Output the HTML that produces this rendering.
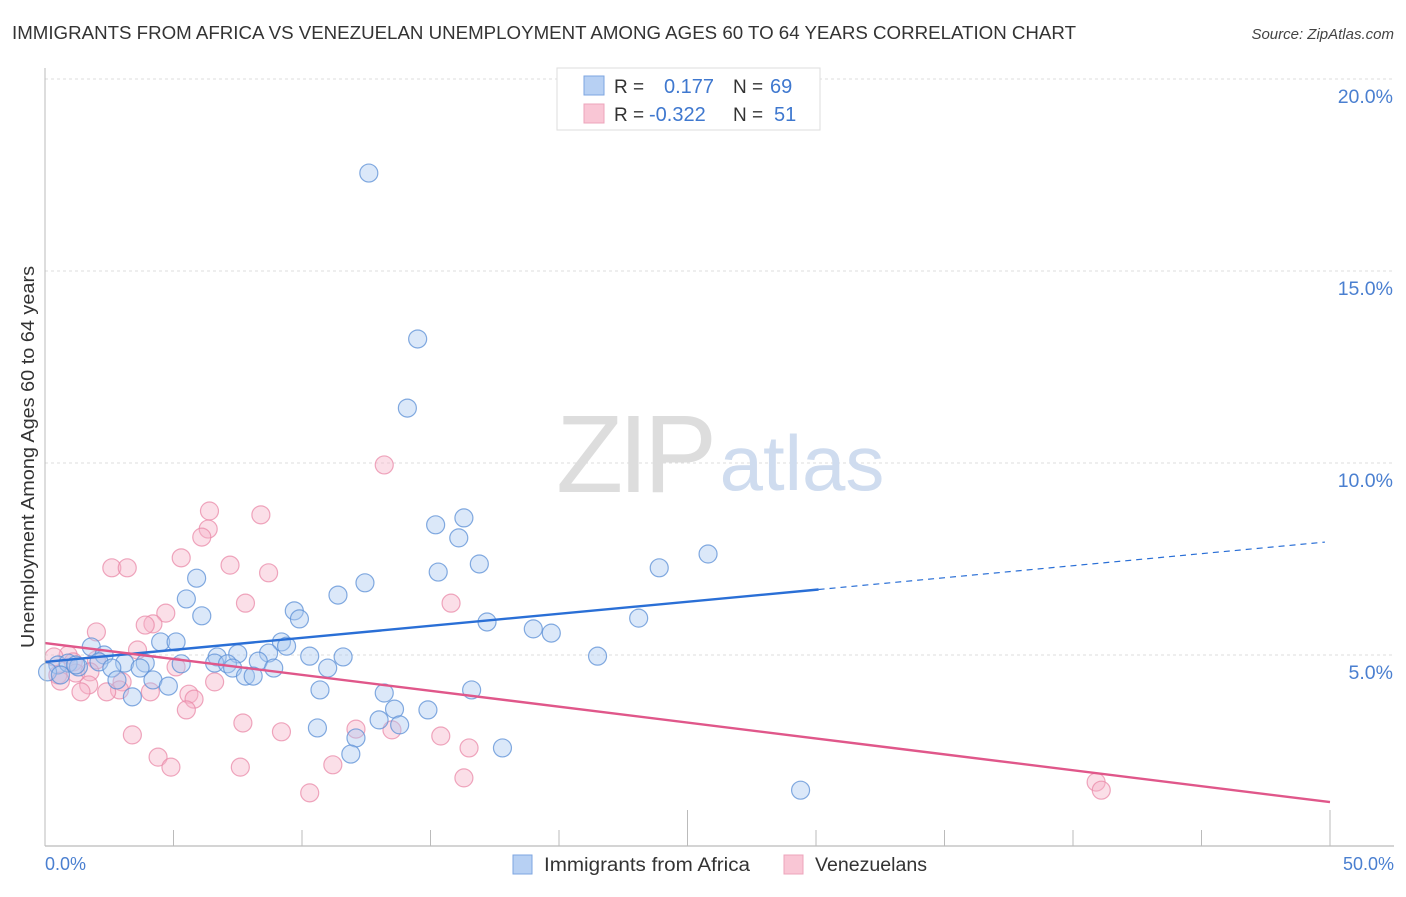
<!DOCTYPE html>
<html><head><meta charset="utf-8"><style>
body{margin:0;background:#fff;font-family:"Liberation Sans",sans-serif;}
svg text{font-family:"Liberation Sans",sans-serif;}
</style></head><body>
<svg id="chart" width="1406" height="892" xmlns="http://www.w3.org/2000/svg">
<text x="12" y="39" font-size="18" fill="#333" textLength="1064" lengthAdjust="spacingAndGlyphs">IMMIGRANTS FROM AFRICA VS VENEZUELAN UNEMPLOYMENT AMONG AGES 60 TO 64 YEARS CORRELATION CHART</text>
<text x="1394" y="39" font-size="15" fill="#444" font-style="italic" text-anchor="end">Source: ZipAtlas.com</text>
<g id="grid"></g>
<g>
<text x="634" y="492" font-size="110" fill="#ddd" font-family="Liberation Serif" text-anchor="middle" letter-spacing="-5">ZIP</text>
<text x="802" y="490" font-size="78" fill="#cfdcef" text-anchor="middle">atlas</text>
</g>
<g id="pts"></g>
<g id="trends"></g>
<line x1="45" y1="68" x2="45" y2="846" stroke="#bbb" stroke-width="1"/>
<line x1="45" y1="846" x2="1394" y2="846" stroke="#bbb" stroke-width="1.2"/>
<g id="xticks"></g>
<text transform="translate(34,457) rotate(-90)" font-size="18" fill="#333" text-anchor="middle" textLength="382" lengthAdjust="spacingAndGlyphs">Unemployment Among Ages 60 to 64 years</text>
<text x="45" y="870" font-size="18" fill="#4a7fd0">0.0%</text>
<text x="1394" y="870" font-size="18" fill="#4a7fd0" text-anchor="end">50.0%</text>
<g>
<rect x="557" y="68" width="263" height="62" fill="#fff" stroke="#ddd"/>
<rect x="584" y="76" width="20" height="19" fill="#b7d0f3" stroke="#7ea6e0"/>
<rect x="584" y="104" width="20" height="19" fill="#f9c6d5" stroke="#eda4bb"/>
<text x="614" y="93" font-size="19" fill="#333">R =</text>
<text x="664" y="93" font-size="20" fill="#3f78cf">0.177</text>
<text x="733" y="93" font-size="19" fill="#333">N =</text>
<text x="770" y="93" font-size="20" fill="#3f78cf">69</text>
<text x="614" y="121" font-size="19" fill="#333">R =</text>
<text x="649" y="121" font-size="20" fill="#3f78cf">-0.322</text>
<text x="733" y="121" font-size="19" fill="#333">N =</text>
<text x="774" y="121" font-size="20" fill="#3f78cf">51</text>
</g>
<g>
<rect x="513" y="855" width="19" height="19" fill="#b7d0f3" stroke="#7ea6e0"/>
<text x="544" y="871" font-size="19" fill="#333" textLength="206" lengthAdjust="spacingAndGlyphs">Immigrants from Africa</text>
</g>
<g>
<rect x="784" y="855" width="19" height="19" fill="#f9c6d5" stroke="#eda4bb"/>
<text x="815" y="871" font-size="19" fill="#333" textLength="112" lengthAdjust="spacingAndGlyphs">Venezuelans</text>
</g>
</svg>
<script>
const yTicks=[5,10,15,20];
const yTickLabels=["5.0%","10.0%","15.0%","20.0%"];
const xTickVals=[0,5,10,15,20,25,30,35,40,45,50];
const africaX=[12.6,14.5,14.1,16.3,15.2,16.1,25.8,16.9,15.3,23.9,12.45,5.9,11.4,5.5,9.7,6.1,9.9,23.1,17.2,19.0,19.7,4.5,5.1,9.2,1.8,9.4,7.5,8.7,21.5,10.3,11.6,2.3,6.7,6.6,7.1,8.3,5.3,3.9,3.1,2.1,7.3,8.9,11.0,2.6,3.7,0.5,0.9,1.3,0.1,0.6,7.8,8.1,2.8,4.2,4.8,10.7,13.2,16.6,3.4,13.6,14.9,13.0,13.8,10.6,12.1,17.8,11.9,29.4,1.2];
const africaY=[17.55,13.23,11.43,8.57,8.39,8.05,7.63,7.37,7.16,7.27,6.88,7.0,6.56,6.46,6.15,6.02,5.94,5.96,5.86,5.68,5.57,5.34,5.34,5.34,5.21,5.23,5.03,5.05,4.97,4.97,4.95,5.0,4.95,4.79,4.77,4.84,4.77,4.79,4.79,4.82,4.66,4.66,4.66,4.66,4.66,4.74,4.79,4.69,4.56,4.48,4.45,4.45,4.35,4.35,4.19,4.09,4.01,4.09,3.91,3.59,3.57,3.31,3.18,3.1,2.84,2.58,2.42,1.48,4.74];
const venX=[13.2,6.4,8.4,6.35,6.1,5.3,7.2,2.6,3.2,8.7,7.8,15.8,4.7,4.2,3.9,2.0,3.6,0.9,0.35,1.1,2.0,5.1,0.5,1.2,1.75,0.6,1.7,3.0,6.6,2.9,1.4,2.4,4.1,5.6,5.8,5.5,7.7,12.1,13.5,9.2,3.4,15.4,16.5,4.4,4.9,7.6,11.2,16.3,10.3,40.9,41.1];
const venY=[9.95,8.75,8.65,8.28,8.07,7.53,7.34,7.27,7.27,7.14,6.35,6.35,6.09,5.81,5.78,5.6,5.13,5.0,4.95,4.82,4.87,4.69,4.48,4.53,4.56,4.32,4.22,4.3,4.3,4.09,4.04,4.04,4.04,3.98,3.85,3.57,3.23,3.07,3.05,3.0,2.92,2.89,2.58,2.34,2.08,2.08,2.14,1.8,1.41,1.69,1.48];
const africaTrend=[4.82,7.94];
const africaTrendX=[0,30.1,49.8];
const venTrend=[5.31,1.17];
const venTrendX=[0,50];

const NS="http://www.w3.org/2000/svg";
function xS(v){return 45+v*25.7;}
function yS(v){return 847-v*38.4;}
function mk(tag,attrs,parent){const e=document.createElementNS(NS,tag);for(const k in attrs)e.setAttribute(k,attrs[k]);parent.appendChild(e);return e;}
const grid=document.getElementById('grid');
yTicks.forEach((t,i)=>{
  const l=mk('line',{x1:45,x2:1394,y1:yS(t),y2:yS(t),stroke:'#ddd','stroke-dasharray':'3,3'},grid);
  
  
  const tx=mk('text',{x:1393,y:yS(t)+24,'font-size':19.5,fill:'#4a7fd0','text-anchor':'end'},grid);
  tx.textContent=yTickLabels[i];
  
  
});
const xt=document.getElementById('xticks');
xTickVals.forEach((t,i)=>{
  if(i===0)return;
  const long=(t===25||t===50);
  const l=mk('line',{x1:xS(t),x2:xS(t),y1:long?810:830,y2:846,stroke:'#bbb'},xt);
  
  
});
const pts=document.getElementById('pts');
function drawPts(xs,ys,fill,stroke,name){
  xs.forEach((x,i)=>{
    const c=mk('circle',{cx:xS(x),cy:yS(ys[i]),r:9,fill:fill,'fill-opacity':0.42,stroke:stroke,'stroke-opacity':0.75,'stroke-width':1.2},pts);
    
    
  });
}
drawPts(venX,venY,'#f6b3c8','#e98aa8','venezuelans-point');
drawPts(africaX,africaY,'#a9c8f0','#5b8fd6','africa-point');
const tr=document.getElementById('trends');
function afY(x){return africaTrend[0]+(africaTrend[1]-africaTrend[0])*x/africaTrendX[2];}
let l1=mk('line',{x1:xS(0),y1:yS(afY(0)),x2:xS(africaTrendX[1]),y2:yS(afY(africaTrendX[1])),stroke:'#2a6fd6','stroke-width':2.4},tr);


let l2=mk('line',{x1:xS(africaTrendX[1]),y1:yS(afY(africaTrendX[1])),x2:xS(africaTrendX[2]),y2:yS(afY(africaTrendX[2])),stroke:'#2a6fd6','stroke-width':1.2,'stroke-dasharray':'6,5'},tr);


let l3=mk('line',{x1:xS(venTrendX[0]),y1:yS(venTrend[0]),x2:xS(venTrendX[1]),y2:yS(venTrend[1]),stroke:'#e0578a','stroke-width':2.4},tr);


</script>
</body></html>
